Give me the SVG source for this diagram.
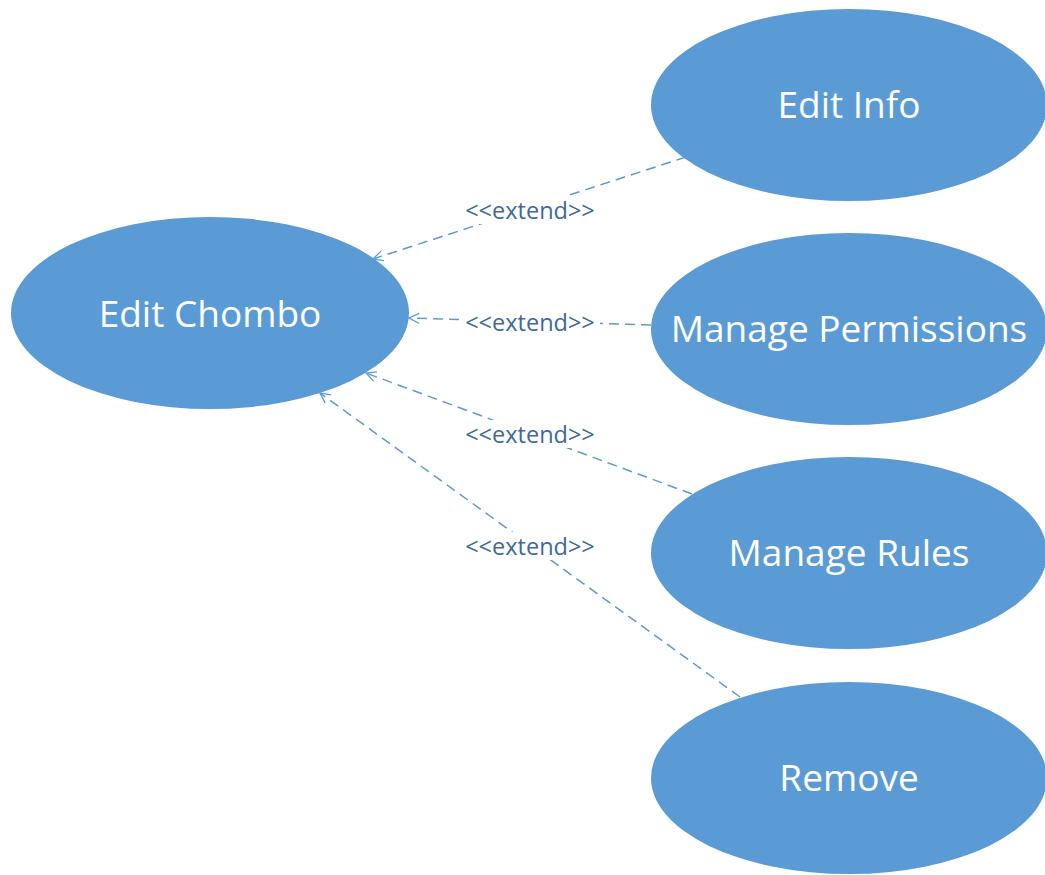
<svg xmlns="http://www.w3.org/2000/svg" width="1045" height="875" viewBox="0 0 1045 875">
  <style>
    .uc { fill: #5b9bd5; }
    .uc-text { fill: #ffffff; font-family: "Open Sans", "Liberation Sans", sans-serif; font-size: 37px; text-anchor: middle; dominant-baseline: central; }
    .ext { stroke: #5b9bd5; stroke-width: 1.5; stroke-dasharray: 10 6; fill: none; marker-end: url(#open-arrow); }
    .ext-label { fill: #41699c; font-family: "Open Sans", "Liberation Sans", sans-serif; font-size: 23.5px; text-anchor: middle; dominant-baseline: central; }
    .label-bg { fill: #ffffff; }
  </style>
  <defs>
    <marker id="open-arrow" viewBox="0 0 12 12" refX="11" refY="6" markerWidth="12" markerHeight="12" markerUnits="userSpaceOnUse" orient="auto">
      <path d="M1,1 L11,6 L1,11" fill="none" stroke="#5b9bd5" stroke-width="1.3"/>
    </marker>
  </defs>
  <rect width="1045" height="875" fill="#ffffff"/>

  <!-- extend relations, pointing at the base use case -->
  <g id="connectors">
    <line class="ext" x1="686" y1="157" x2="373" y2="259"/>
    <line class="ext" x1="651" y1="325" x2="409" y2="318"/>
    <line class="ext" x1="692" y1="494" x2="366" y2="373"/>
    <line class="ext" x1="740" y1="697" x2="320" y2="393"/>
    <rect class="label-bg" x="461" y="196" width="139" height="28"/>
    <rect class="label-bg" x="461" y="308" width="139" height="28"/>
    <rect class="label-bg" x="461" y="420" width="139" height="28"/>
    <rect class="label-bg" x="461" y="532" width="139" height="28"/>
    <text class="ext-label" x="530" y="210">&lt;&lt;extend&gt;&gt;</text>
    <text class="ext-label" x="530" y="322">&lt;&lt;extend&gt;&gt;</text>
    <text class="ext-label" x="530" y="434">&lt;&lt;extend&gt;&gt;</text>
    <text class="ext-label" x="530" y="546">&lt;&lt;extend&gt;&gt;</text>
  </g>

  <g id="edit-chombo">
    <ellipse class="uc" cx="210" cy="313" rx="199" ry="96"/>
    <text class="uc-text" x="210" y="312">Edit Chombo</text>
  </g>
  <g id="edit-info">
    <ellipse class="uc" cx="849" cy="105" rx="198" ry="96"/>
    <text class="uc-text" x="849" y="103">Edit Info</text>
  </g>
  <g id="manage-permissions">
    <ellipse class="uc" cx="849" cy="329" rx="198" ry="96"/>
    <text class="uc-text" x="849" y="327">Manage Permissions</text>
  </g>
  <g id="manage-rules">
    <ellipse class="uc" cx="849" cy="553" rx="198" ry="96"/>
    <text class="uc-text" x="849" y="551">Manage Rules</text>
  </g>
  <g id="remove">
    <ellipse class="uc" cx="849" cy="778" rx="198" ry="96"/>
    <text class="uc-text" x="849" y="776">Remove</text>
  </g>
</svg>
